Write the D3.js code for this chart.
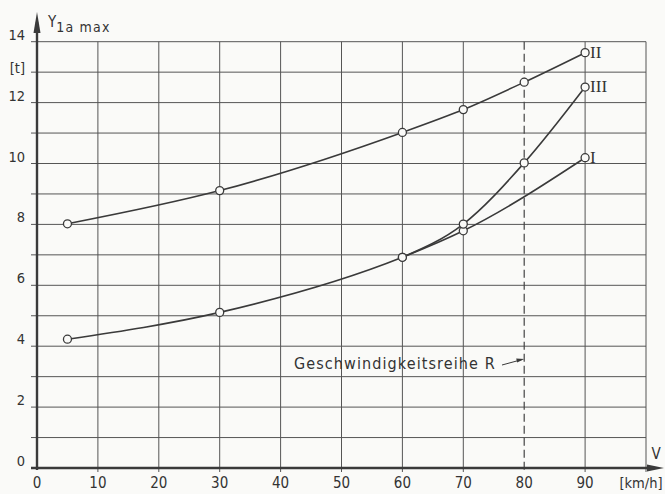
<!DOCTYPE html>
<html>
<head>
<meta charset="utf-8">
<script src="https://cdn.jsdelivr.net/npm/d3@7"></script>
<style>
  html, body { margin: 0; padding: 0; background: #fafaf8; }
  svg { display: block; }
  .num { font-family: 'DejaVu Sans Condensed', 'DejaVu Sans', sans-serif; fill: #333; }
  .roman { font-family: 'Liberation Serif', serif; fill: #333; }
</style>
</head>
<body>
<script>
// values
const xTicks = [0, 10, 20, 30, 40, 50, 60, 70, 80, 90]
const yTicks = [0, 2, 4, 6, 8, 10, 12, 14]
const seriesI = [[5, 4.23], [30, 5.11], [60, 6.92], [70, 7.79], [90, 10.19]]
const seriesII = [[5, 8.02], [30, 9.11], [60, 11.02], [70, 11.77], [80, 12.67], [90, 13.64]]
const seriesIII = [[60, 6.92], [70, 8.01], [80, 10.02], [90, 12.51]]
const series = [
  { name: 'I', data: seriesI },
  { name: 'II', data: seriesII },
  { name: 'III', data: seriesIII }
]
const markerSpeed = 80
const markerText = 'Geschwindigkeitsreihe R'

const W = 665, H = 494
const ink = '#3a3a3a'

const x = d3.scaleLinear().domain([0, 100]).range([37, 646])
const y = d3.scaleLinear().domain([0, 14]).range([468, 41.7])

const svg = d3.select('body').append('svg')
  .attr('width', W).attr('height', H)

// grid
const grid = svg.append('g').attr('stroke', '#555').attr('stroke-width', 1)
grid.selectAll('line.h')
  .data(d3.range(0, 15))
  .join('line')
  .attr('x1', x(0) - 6).attr('x2', x(100))
  .attr('y1', d => y(d)).attr('y2', d => y(d))
grid.selectAll('line.v')
  .data(d3.range(10, 101, 10).filter(d => d !== markerSpeed))
  .join('line')
  .attr('x1', d => x(d)).attr('x2', d => x(d))
  .attr('y1', y(14)).attr('y2', y(0) + 4)

// dashed speed line
svg.append('line')
  .attr('x1', x(markerSpeed)).attr('x2', x(markerSpeed))
  .attr('y1', y(14)).attr('y2', y(0) + 4)
  .attr('stroke', '#444').attr('stroke-width', 1.2)
  .attr('stroke-dasharray', '8,4')

// axes
svg.append('line')
  .attr('x1', x(0)).attr('x2', x(0))
  .attr('y1', y(0) + 2).attr('y2', 22)
  .attr('stroke', ink).attr('stroke-width', 2.4)
svg.append('path')
  .attr('d', `M${x(0)},12 L${x(0) - 3.5},33 L${x(0) + 3.5},33 Z`)
  .attr('fill', ink)
svg.append('line')
  .attr('x1', x(0) - 6).attr('x2', 654)
  .attr('y1', y(0)).attr('y2', y(0))
  .attr('stroke', ink).attr('stroke-width', 2.4)
svg.append('path')
  .attr('d', `M664,${y(0)} L647,${y(0) - 3.5} L647,${y(0) + 3.5} Z`)
  .attr('fill', ink)

// tick labels
svg.append('g').selectAll('text')
  .data(yTicks)
  .join('text')
  .attr('class', 'num')
  .attr('x', 25).attr('y', d => y(d) - 2)
  .attr('text-anchor', 'end')
  .attr('font-size', 14.5)
  .text(d => d)
svg.append('text').attr('class', 'num')
  .attr('x', 25).attr('y', y(13) + 1)
  .attr('text-anchor', 'end').attr('font-size', 14.5)
  .text('[t]')
svg.append('g').selectAll('text')
  .data(xTicks)
  .join('text')
  .attr('class', 'num')
  .attr('x', d => x(d)).attr('y', 488)
  .attr('text-anchor', 'middle')
  .attr('font-size', 15)
  .text(d => d)
svg.append('text').attr('class', 'num')
  .attr('x', 641).attr('y', 488)
  .attr('text-anchor', 'middle').attr('font-size', 14.5)
  .text('[km/h]')
svg.append('text').attr('class', 'num')
  .attr('x', 656).attr('y', 459)
  .attr('text-anchor', 'middle').attr('font-size', 15)
  .text('V')

const yl = svg.append('text').attr('class', 'num')
  .attr('x', 48).attr('y', 27).attr('font-size', 15)
yl.append('tspan').text('Y')
yl.append('tspan').attr('dy', 5).attr('font-size', 14)
  .attr('letter-spacing', 1.2).text('1a max')

// curves
const line = d3.line()
  .x(d => x(d[0])).y(d => y(d[1]))
  .curve(d3.curveMonotoneX)

svg.append('g').selectAll('path')
  .data(series)
  .join('path')
  .attr('d', d => line(d.data))
  .attr('fill', 'none')
  .attr('stroke', ink)
  .attr('stroke-width', 1.6)

svg.append('g').selectAll('circle')
  .data(series.flatMap(s => s.data))
  .join('circle')
  .attr('cx', d => x(d[0])).attr('cy', d => y(d[1]))
  .attr('r', 4)
  .attr('fill', '#fafaf8')
  .attr('stroke', ink)
  .attr('stroke-width', 1.3)

svg.append('g').selectAll('text')
  .data(series)
  .join('text')
  .attr('class', 'roman')
  .attr('x', d => x(d.data[d.data.length - 1][0]) + 5)
  .attr('y', d => y(d.data[d.data.length - 1][1]) + 5)
  .attr('font-size', 17)
  .text(d => d.name)

// annotation
svg.append('text').attr('class', 'num')
  .attr('x', 294).attr('y', 369)
  .attr('font-size', 16)
  .attr('letter-spacing', 1.1)
  .text(markerText)
svg.append('line')
  .attr('x1', 502).attr('y1', 365)
  .attr('x2', x(markerSpeed) - 2).attr('y2', 359.5)
  .attr('stroke', ink).attr('stroke-width', 1)
svg.append('path')
  .attr('d', `M${x(markerSpeed)},359 L${x(markerSpeed) - 8},358.5 L${x(markerSpeed) - 7},362.5 Z`)
  .attr('fill', ink)
</script>
</body>
</html>
